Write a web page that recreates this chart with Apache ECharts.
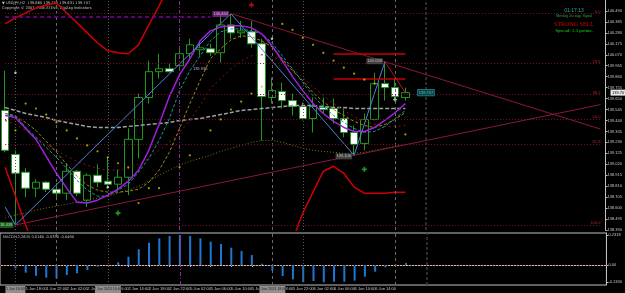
<!DOCTYPE html>
<html>
<head>
<meta charset="utf-8">
<script src="https://cdn.jsdelivr.net/npm/echarts@6/dist/echarts.min.js"></script>
<style>
html,body{margin:0;padding:0;background:#000;}
#chart{width:625px;height:293px;}
</style>
</head>
<body>
<div id="chart"></div>
<script>
// USDJPY H2 - candles, MAs, zigzag, fibo, MACD
var times = ['1 Jun 14:00','1 Jun 16:00','1 Jun 18:00','1 Jun 20:00','1 Jun 22:00','2 Jun 00:00','2 Jun 02:00','2 Jun 04:00','2 Jun 06:00','2 Jun 08:00',
    '2 Jun 10:00','2 Jun 12:00','2 Jun 14:00','2 Jun 16:00','2 Jun 18:00','2 Jun 20:00','2 Jun 22:00','5 Jun 00:00','5 Jun 02:00','5 Jun 04:00',
    '5 Jun 06:00','5 Jun 08:00','5 Jun 10:00','5 Jun 12:00','5 Jun 14:00','5 Jun 16:00','5 Jun 18:00','5 Jun 20:00','5 Jun 22:00','6 Jun 00:00',
    '6 Jun 02:00','6 Jun 04:00','6 Jun 06:00','6 Jun 08:00','6 Jun 10:00','6 Jun 12:00','6 Jun 14:00','6 Jun 16:00','6 Jun 18:00','6 Jun 20:00'];
var emptySlots = 19;

var opens  = [139.536,139.115,138.944,138.791,138.848,138.781,138.743,138.953,138.676,138.915,138.858,138.829,138.896,139.259,139.660,139.908,139.936,139.965,140.080,140.118,
              140.127,140.089,140.356,140.280,140.290,140.175,139.660,139.717,139.631,139.574,139.459,139.564,139.555,139.459,139.325,139.220,139.450,139.793,139.755,139.660];
var closes = [139.154,138.934,138.791,138.848,138.781,138.743,138.953,138.743,138.915,138.848,138.829,138.896,139.259,139.660,139.908,139.936,139.908,140.080,140.165,140.137,
              140.089,140.356,140.280,140.299,140.175,139.669,139.726,139.631,139.574,139.459,139.574,139.545,139.459,139.325,139.211,139.450,139.793,139.755,139.669,139.707];
var lows   = [139.135,138.438,138.705,138.705,138.753,138.676,138.676,138.715,138.610,138.800,138.791,138.772,138.724,139.077,139.602,139.841,139.898,139.917,140.032,140.060,
              140.060,139.994,140.223,140.232,140.137,139.249,139.602,139.555,139.488,139.440,139.325,139.507,139.411,139.278,139.106,139.154,139.440,139.631,139.631,139.631];
var highs  = [139.917,139.154,138.982,138.877,138.858,138.839,139.030,138.963,138.934,139.020,139.087,138.972,139.364,139.698,140.013,140.080,139.984,140.156,140.223,140.204,
              140.175,140.461,140.464,140.395,140.395,140.223,139.851,139.803,139.698,139.612,139.660,139.660,139.650,139.555,139.392,139.507,139.898,140.003,139.841,139.755];

var maPurple = [139.488,139.469,139.364,139.259,139.096,138.934,138.791,138.657,138.648,138.676,138.724,138.781,138.858,138.963,139.154,139.402,139.669,139.879,140.032,140.204,
                140.299,140.337,140.347,140.347,140.328,140.271,140.156,140.013,139.860,139.726,139.602,139.507,139.431,139.373,139.335,139.335,139.373,139.440,139.516,139.602];
var maTeal   = [139.507,139.488,139.373,139.278,139.182,139.087,138.982,138.867,138.772,138.715,138.715,138.772,138.829,138.944,139.077,139.249,139.459,139.726,139.917,140.060,
                140.204,140.290,140.318,140.318,140.299,140.271,140.185,140.060,139.936,139.803,139.679,139.574,139.488,139.421,139.364,139.326,139.335,139.383,139.459,139.536];
var maOlive  = [139.507,139.478,139.421,139.345,139.240,139.135,139.020,138.906,138.820,138.772,138.753,138.753,138.762,138.781,138.848,138.963,139.135,139.364,139.602,139.822,
                140.032,140.127,140.213,140.251,140.242,140.204,140.146,140.032,139.917,139.822,139.707,139.621,139.545,139.488,139.431,139.392,139.373,139.402,139.450,139.516];
var maDarkRed= [139.440,139.402,139.345,139.278,139.201,139.154,139.096,139.049,139.011,138.982,138.963,138.963,138.982,139.020,139.077,139.154,139.230,139.326,139.440,139.583,
                139.746,139.841,139.936,140.013,140.060,140.070,140.051,140.013,139.936,139.851,139.765,139.679,139.602,139.536,139.478,139.431,139.402,139.383,139.383,139.392];
var maGrey   = [139.564,139.536,139.507,139.488,139.469,139.440,139.421,139.402,139.383,139.373,139.373,139.373,139.383,139.392,139.402,139.411,139.421,139.440,139.450,139.459,
                139.478,139.497,139.516,139.536,139.545,139.555,139.564,139.574,139.583,139.583,139.583,139.574,139.564,139.564,139.555,139.555,139.555,139.555,139.555,139.555];
var maSlow   = [138.505,138.533,138.552,138.581,138.600,138.619,138.638,138.657,138.676,138.696,138.715,138.743,138.772,138.810,138.858,138.915,138.963,139.011,139.049,139.077,
                139.106,139.144,139.173,139.201,139.230,139.249,139.249,139.230,139.201,139.173,139.154,139.144,139.135,139.125,139.125,139.135,139.154,139.173,139.192,139.211];
var bandUpper = [140.366,140.423,140.471,140.519,140.547,140.566,140.471,140.376,140.280,140.185,140.108,140.089,140.080,140.165,140.356,140.538,140.738,'-','-','-',
                 '-','-','-','-','-','-','-','-','-','-','-','-','-','-','-','-','-','-','-','-'];
var bandLower = [138.991,138.715,138.438,138.161,'-','-','-','-','-','-','-','-','-','-','-','-','-','-','-','-',
                 '-','-','-','-','-','-','-','-',138.295,138.552,138.753,138.953,139.001,138.934,138.801,138.743,138.743,138.743,138.753,138.753];

var zzIdx = [0, 1, 22, 34, 37];
var zzVal = [138.610, 138.438, 140.464, 139.106, 140.003];
var fibLevels = [0, 23.6, 38.2, 50, 61.8, 100];

var sarIdx = [1,2,3,4,5,6,7,8,9,10,11,12,13,14,15,17,18,20,21,22,23,24,25,27,28,29,30,31,32,33,34,35,36,39];
var sarVal = [139.345,139.602,139.555,139.497,139.421,139.345,139.268,139.201,139.144,139.087,139.030,138.991,138.648,138.791,138.791,138.991,139.106,139.345,139.450,139.545,
              139.621,139.698,139.765,140.366,140.309,140.232,140.165,140.089,140.013,139.946,139.889,139.831,139.793,139.306];
var whiteIdx = [1, 10, 26];
var whiteVal = [139.898, 138.800, 140.223];
var buyIdx = [11, 35];
var buyVal = [138.552, 138.972];
var sellIdx = [24];
var sellVal = [140.547];

var targetLines = [140.077, 139.843];
var highLine = 140.436;
var sepIdx = [1, 5, 10, 17, 26, 29, 38, 41];

var macd = ['-',-0.026,-0.059,-0.083,-0.098,-0.103,-0.077,-0.064,-0.039,-0.013,0.000,0.021,0.064,0.121,0.172,0.206,0.224,0.2318,0.224,0.206,
            0.180,0.162,0.134,0.108,0.077,0.010,-0.044,-0.085,-0.111,-0.133,-0.124,-0.133,-0.129,-0.129,-0.121,-0.090,-0.052,-0.018,0.002,0.015];
var macdTicks = [0.2318, 0, -0.133];

var slots = times.slice();
for (var i = 0; i < emptySlots; i++) slots.push('s' + i);
var last = slots.length - 1;

var candles = [];
for (var i = 0; i < times.length; i++) candles.push([opens[i], closes[i], lows[i], highs[i]]);
function pairs(ix, v){ var r=[]; for (var i=0;i<ix.length;i++) r.push([ix[i], v[i]]); return r; }
function extend(i1, v1, i2, v2, ie){ return v1 + (v2 - v1) * (ie - i1) / (i2 - i1); }

var LF = '"Liberation Sans", Arial, sans-serif';

function sepStyle(ix){
    if (ix === 17) return {color:'#8a2a9a', type:[4,2,1,2], width:1};
    if (ix === 5 || ix === 26 || ix === 38) return {color:'#6a6a6a', type:[3,3], width:1};
    if (ix === 41) return {color:'#3a3a3a', type:[3,2], width:1.5};
    return {color:'#5a5a5a', type:[1,2], width:1};
}

var mlMain = [], mlMacd = [];
sepIdx.forEach(function(ix){
    mlMain.push({xAxis: ix, lineStyle: sepStyle(ix)});
    mlMacd.push({xAxis: ix, lineStyle: sepStyle(ix)});
});
var fHigh = zzVal[2], fLow = zzVal[1];
fibLevels.forEach(function(l){
    var p = fHigh - (fHigh - fLow) * l / 100;
    mlMain.push([{coord:[0, p], lineStyle:{color:'#7a1422', type:[1,2], width:1},
                  label:{show:true, formatter:l.toFixed(1), position:'insideEndTop', distance:0, color:'#c0202a', fontSize:4, fontFamily:LF}},
                 {coord:[last, p]}]);
});
// trendlines
mlMain.push([{coord:[22, zzVal[2]], lineStyle:{color:'#8a1838', type:'solid', width:1}},
             {coord:[last, extend(22, zzVal[2], 37, zzVal[4], last)]}]);
mlMain.push([{coord:[1, zzVal[1]], lineStyle:{color:'#8a1838', type:'solid', width:1}},
             {coord:[last, extend(1, zzVal[1], 34, zzVal[3], last)]}]);
targetLines.forEach(function(p){
    mlMain.push([{coord:[32, p], lineStyle:{color:'#c80000', type:'solid', width:1.5}}, {coord:[39, p]}]);
});
mlMain.push([{coord:[0, highLine], lineStyle:{color:'#8000a0', type:[4,3], width:1.5}}, {coord:[20, highLine]}]);

function maLine(name, data, color, type, width){
    return {name:name, type:'line', xAxisIndex:0, yAxisIndex:0, data:data, showSymbol:false, silent:true,
            connectNulls:false, lineStyle:{color:color, type:type, width:width}, z:3};
}
function labelPoint(idx, val, text, style){
    return {type:'scatter', xAxisIndex:0, yAxisIndex:0, symbolSize:0, silent:true, z:6,
            data:[[idx, val]],
            label:Object.assign({show:true, position:'inside', formatter:text, fontSize:4, fontFamily:LF, padding:[1,1]}, style)};
}

var chart = echarts.init(document.getElementById('chart'), null, {renderer:'canvas'});
var option = {
    backgroundColor:'#000000',
    animation:false,
    grid:[
        {left:-4.2, right:14.6, top:-1, bottom:63},
        {left:-4.2, right:14.6, top:233, bottom:8, show:true, borderColor:'#bfbfbf', borderWidth:1, backgroundColor:'transparent'}
    ],
    xAxis:[
        {type:'category', gridIndex:0, data:slots, boundaryGap:true, axisLine:{show:false}, axisTick:{show:false}, axisLabel:{show:false}, splitLine:{show:false}},
        {type:'category', gridIndex:1, data:slots, boundaryGap:true,
         axisLine:{show:true, lineStyle:{color:'#bfbfbf'}},
         axisTick:{show:true, alignWithLabel:true, length:2, lineStyle:{color:'#bfbfbf'},
                   interval:function(i){ return i % 2 === 0 && i < times.length; }},
         axisLabel:{show:true, align:'left', margin:2, fontSize:4, fontFamily:LF, color:'#c8c8c8',
                    interval:function(i){ return i % 2 === 0 && i < times.length; }},
         splitLine:{show:false}}
    ],
    yAxis:[
        {type:'value', gridIndex:0, position:'right', min:138.39, max:140.595, interval:0.105,
         axisLine:{show:true, lineStyle:{color:'#bfbfbf'}},
         axisTick:{show:true, length:2, lineStyle:{color:'#bfbfbf'}},
         axisLabel:{show:true, margin:2, fontSize:4, fontFamily:LF, color:'#c8c8c8', showMaxLabel:false,
                    formatter:function(v){ return v.toFixed(3); }},
         splitLine:{show:false}},
        {type:'value', gridIndex:1, position:'right', min:-0.1545, max:0.2473,
         axisLine:{show:true, lineStyle:{color:'#bfbfbf'}},
         axisTick:{show:true, length:2, customValues:macdTicks, lineStyle:{color:'#bfbfbf'}},
         axisLabel:{show:true, margin:2, fontSize:4, fontFamily:LF, color:'#c8c8c8', customValues:macdTicks,
                    formatter:function(v){ return v === 0 ? '0.00' : v.toFixed(4); }},
         splitLine:{show:false}}
    ],
    series:[
        {name:'USDJPY', type:'candlestick', xAxisIndex:0, yAxisIndex:0, data:candles, barWidth:8, z:2,
         itemStyle:{color:'#000000', color0:'#ffffff', borderColor:'#1f9a1f', borderColor0:'#1f9a1f', borderWidth:1},
         markLine:{symbol:['none','none'], silent:true, animation:false, label:{show:false}, data:mlMain}},
        maLine('slow', maSlow, '#7a7a10', [1,2], 1),
        maLine('grey', maGrey, '#a0a0a0', [4,2], 1.5),
        maLine('darkred', maDarkRed, '#8a1010', [2,3], 1),
        maLine('olive', maOlive, '#9a8a10', [3,2], 1),
        maLine('teal', maTeal, '#1a9a9a', [3,2], 1),
        maLine('purple', maPurple, '#a020e0', 'solid', 1.5),
        maLine('upper', bandUpper, '#d00000', 'solid', 1.5),
        maLine('lower', bandLower, '#d00000', 'solid', 1.5),
        {name:'zigzag', type:'line', xAxisIndex:0, yAxisIndex:0, data:pairs(zzIdx, zzVal), showSymbol:false, silent:true, z:4,
         lineStyle:{color:'#4a86d8', width:1}},
        {name:'zigzag-tail', type:'line', xAxisIndex:0, yAxisIndex:0, data:[[zzIdx[4], zzVal[4]], [39, closes[39]]], showSymbol:false, silent:true, z:4,
         lineStyle:{color:'#c01020', width:1}},
        {name:'sar', type:'scatter', xAxisIndex:0, yAxisIndex:0, data:pairs(sarIdx, sarVal), symbolSize:2.2, silent:true, z:5,
         itemStyle:{color:'#c8c800'}},
        {name:'sar2', type:'scatter', xAxisIndex:0, yAxisIndex:0, data:pairs(whiteIdx, whiteVal), symbolSize:2.5, silent:true, z:5,
         itemStyle:{color:'#e8e8e8'}},
        {name:'cross', type:'scatter', xAxisIndex:0, yAxisIndex:0, data:[[38, 139.640]], symbol:'path://M2,0h2v2h2v2h-2v2h-2v-2h-2v-2h2z', symbolSize:4, silent:true, z:5,
         itemStyle:{color:'#e0e0e0'}},
        {name:'buy', type:'scatter', xAxisIndex:0, yAxisIndex:0, data:pairs(buyIdx, buyVal), symbol:'path://M2,0h2v2h2v2h-2v2h-2v-2h-2v-2h2z', symbolSize:5, silent:true, z:5,
         itemStyle:{color:'#20c020'}},
        {name:'sell', type:'scatter', xAxisIndex:0, yAxisIndex:0, data:pairs(sellIdx, sellVal), symbol:'path://M2,0h2v2h2v2h-2v2h-2v-2h-2v-2h2z', symbolSize:5, silent:true, z:5,
         itemStyle:{color:'#e01010'}},
        labelPoint(21, 140.461, zzVal[2].toFixed(3), {color:'#f0d0f0', backgroundColor:'#7a2a8a'}),
        labelPoint(33, 139.096, zzVal[3].toFixed(3), {color:'#d8d8d8', backgroundColor:'#505050'}),
        labelPoint(36, 140.008, zzVal[4].toFixed(3), {color:'#d8d8d8', backgroundColor:'#505050'}),
        labelPoint(0, zzVal[1], zzVal[1].toFixed(3), {color:'#d0f0d0', backgroundColor:'#1e6e1e'}),
        labelPoint(19, 139.936, '139.936', {color:'#e8c8e8'}),
        labelPoint(41, closes[39], closes[39].toFixed(3), {color:'#70e0e0', backgroundColor:'#0b4a50', borderColor:'#20a8a8', borderWidth:0.6}),
        {name:'MACD', type:'bar', xAxisIndex:1, yAxisIndex:1, data:macd, barWidth:2, silent:true,
         itemStyle:{color:'#1e78d2'},
         markLine:{symbol:['none','none'], silent:true, animation:false, label:{show:false},
                   data:mlMacd.concat([{yAxis:0, lineStyle:{color:'#8a1818', type:[1,2], width:1}}])}}
    ],
    graphic:[
        {type:'text', x:2, y:1, style:{text:'\u25BC USDJPY,H2  ' + opens[39].toFixed(3) + ' ' + highs[39].toFixed(3) + ' ' + lows[39].toFixed(3) + ' ' + closes[39].toFixed(3),
            fill:'#c8c8c8', font:'3.6px "DejaVu Sans"'}},
        {type:'text', x:2, y:6, style:{text:'Copyright \u00A9 2007, FINE-STEVE, ZigZag Indicators', fill:'#c8c8c8', font:'3.6px "DejaVu Sans"'}},
        {type:'text', x:574, y:8, style:{text:'01:17:13', fill:'#2aa6a0', font:'5px "Liberation Sans"', textAlign:'center'}},
        {type:'text', x:574, y:14.5, style:{text:'Moving Average Signal', fill:'#3aa84a', font:'3.8px "Liberation Serif"', textAlign:'center'}},
        {type:'text', x:574, y:21, style:{text:'STRONG SELL', fill:'#d00000', font:'6px "Liberation Serif"', textAlign:'center'}},
        {type:'text', x:574, y:28, style:{text:'Spread: 1.3 points.', fill:'#10e010', font:'5px "Liberation Serif"', textAlign:'center'}},
        {type:'text', x:3, y:235, style:{text:'MACD(12,26,9) 0.0160 -0.0330 -0.0490', fill:'#c8c8c8', font:'3.6px "DejaVu Sans"'}}
    ]
};
chart.setOption(option);

// axis boxes (vertical line marks + current price)
var boxMarks = [[1, '1 Jun 16:00'], [10, '2 Jun 2023 10:00'], [26, '5 Jun 2023 18:00']];
var extra = option.graphic.slice();
boxMarks.forEach(function(b){
    var px = chart.convertToPixel({gridIndex:1}, [b[0], 0]);
    var w = b[1].length > 12 ? 26 : 20;
    extra.push({type:'rect', shape:{x:px[0] - w / 2, y:286, width:w, height:7}, style:{fill:'#8e8e8e'}, z:100});
    extra.push({type:'text', x:px[0], y:287.2, style:{text:b[1], fill:'#202020', font:'3.6px "Liberation Sans"', textAlign:'center'}, z:101});
});
var pp = chart.convertToPixel({gridIndex:0}, [39, closes[39]]);
extra.push({type:'rect', shape:{x:610.5, y:pp[1] - 3, width:15, height:6}, style:{fill:'#e8e8e8'}, z:100});
extra.push({type:'text', x:612, y:pp[1] - 2, style:{text:closes[39].toFixed(3), fill:'#000000', font:'4px "Liberation Sans"'}, z:101});
chart.setOption({graphic:extra}, {replaceMerge:['graphic']});
</script>
</body>
</html>
